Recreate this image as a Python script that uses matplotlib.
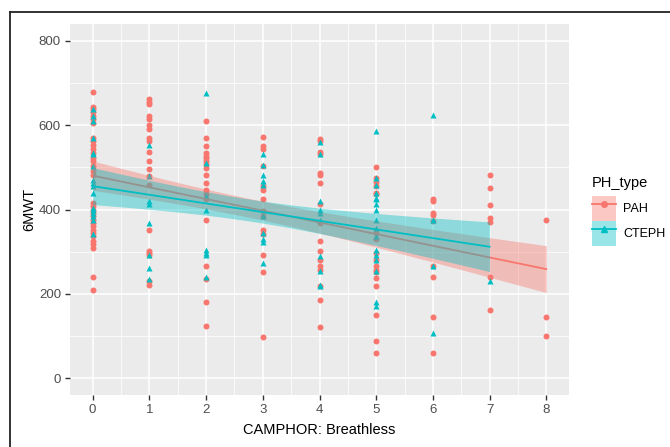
import numpy as np
import matplotlib
matplotlib.use("Agg")
import matplotlib.pyplot as plt
from matplotlib.lines import Line2D
from matplotlib.patches import Patch
from matplotlib.ticker import FixedLocator

plt.rcParams['font.family'] = ['Liberation Sans', 'DejaVu Sans']

# ---- data (CAMPHOR breathless score, 6MWT) ----
pah_x = [0]*33 + [1]*20 + [2]*19 + [3]*14 + [4]*17 + [5]*18 + [6]*9 + [7]*7 + [8]*3
pah_y = [679, 644, 638, 631, 622, 614, 606, 570, 562, 552, 543, 535, 523, 515, 503, 491, 483,
         416, 408, 400, 392, 384, 376, 368, 360, 352, 345, 337, 325, 319, 309, 240, 210,
         663, 655, 650, 622, 614, 600, 590, 570, 562, 536, 515, 495, 479, 459, 352, 301, 297, 293, 230, 222,
         610, 570, 550, 535, 528, 523, 515, 509, 499, 483, 464, 446, 436, 424, 376, 265, 235, 180, 124,
         572, 550, 544, 503, 455, 447, 424, 396, 384, 352, 343, 292, 251, 97,
         568, 562, 536, 531, 487, 483, 462, 412, 367, 325, 301, 281, 265, 256, 218, 186, 121,
         500, 475, 465, 455, 440, 436, 345, 329, 297, 281, 265, 257, 251, 237, 219, 150, 89, 59,
         424, 420, 392, 388, 372, 265, 240, 146, 59,
         482, 452, 410, 380, 370, 241, 161,
         375, 146, 99]

cteph_x = [0]*17 + [1]*8 + [2]*8 + [3]*10 + [4]*10 + [5]*17 + [6]*4 + [7]*1
cteph_y = [638, 622, 610, 570, 535, 531, 503, 471, 463, 455, 440, 404, 400, 392, 384, 376, 341,
           552, 479, 420, 412, 367, 293, 261, 234,
           677, 511, 432, 400, 305, 297, 293, 241,
           531, 505, 483, 467, 459, 384, 345, 329, 322, 272,
           560, 531, 420, 400, 392, 376, 289, 253, 222, 218,
           586, 475, 457, 440, 428, 424, 412, 400, 376, 357, 337, 305, 293, 281, 253, 180, 170,
           623, 376, 267, 108,
           230]

groups = ["PAH", "CTEPH"]
colors = {"PAH": "#F8766D", "CTEPH": "#00BFC4"}
markers = {"PAH": "o", "CTEPH": "^"}
series = {"PAH": (pah_x, pah_y), "CTEPH": (cteph_x, cteph_y)}

x_ticks = [0, 1, 2, 3, 4, 5, 6, 7, 8]
y_ticks = [0, 200, 400, 600, 800]

W, H = 670, 447
fig = plt.figure(figsize=(W/100, H/100), dpi=100)
ax = fig.add_axes([70/W, 1-395/H, (569-70)/W, (395-24)/H])
ax.set_facecolor("#EBEBEB")
for s in ax.spines.values():
    s.set_visible(False)

ax.set_xlim(-0.4, 8.4)
ax.set_ylim(-40, 840)
ax.xaxis.set_major_locator(FixedLocator(x_ticks))
ax.yaxis.set_major_locator(FixedLocator(y_ticks))
ax.xaxis.set_minor_locator(FixedLocator([v + 0.5 for v in x_ticks[:-1]]))
ax.yaxis.set_minor_locator(FixedLocator([100, 300, 500, 700]))
ax.grid(which="major", color="white", lw=1.1)
ax.grid(which="minor", color="white", lw=0.55)
ax.set_axisbelow(True)
ax.tick_params(which="major", length=3.5, width=1, color="#333333",
               labelcolor="#4D4D4D", labelsize=9.5, pad=3)
ax.tick_params(which="minor", length=0)

# points
for g in groups:
    x, y = series[g]
    ax.plot(x, y, ls="none", marker=markers[g], ms=4.3 if g == "PAH" else 4.8,
            color=colors[g], mec="none", zorder=2)

# linear fits with 95% CI (like geom_smooth(method="lm"))
for g in groups:
    x, y = np.asarray(series[g][0], float), np.asarray(series[g][1], float)
    n = len(x)
    b, a = np.polyfit(x, y, 1)
    resid = y - (a + b*x)
    s = np.sqrt(np.sum(resid**2)/(n-2))
    xs = np.linspace(x.min(), x.max(), 80)
    fit = a + b*xs
    se = s*np.sqrt(1/n + (xs - x.mean())**2/np.sum((x - x.mean())**2))
    t = 1.97
    ax.fill_between(xs, fit - t*se, fit + t*se, color=colors[g], alpha=0.4, lw=0, zorder=3)
    ax.plot(xs, fit, color=colors[g], lw=1.3, zorder=3)

ax.set_xlabel("CAMPHOR: Breathless", fontsize=10.5, color="black", labelpad=5)
ax.set_ylabel("6MWT", fontsize=10.5, color="black", labelpad=2)

handles = []
for g in groups:
    handles.append((Patch(facecolor=colors[g], alpha=0.4, lw=0),
                    Line2D([], [], color=colors[g], lw=1.3, marker=markers[g], ms=4)))
fig.text(592/W, 1-183/H, "PH_type", fontsize=10.5, ha="left", va="center")
leg = fig.legend(handles, groups, loc="upper left",
                 bbox_to_anchor=(592/W, 1-196/H), frameon=False, borderpad=0,
                 fontsize=9, handlelength=1.9, handleheight=2.7,
                 handletextpad=0.6, labelspacing=0.0, borderaxespad=0)

# outer border lines (left and top)
fig.add_artist(Line2D([10/W, 10/W], [0, 1-12/H], transform=fig.transFigure, color="#222222", lw=1.3))
fig.add_artist(Line2D([10/W, 1], [1-12/H, 1-12/H], transform=fig.transFigure, color="#222222", lw=1.3))

fig.savefig("out.png", dpi=100)
